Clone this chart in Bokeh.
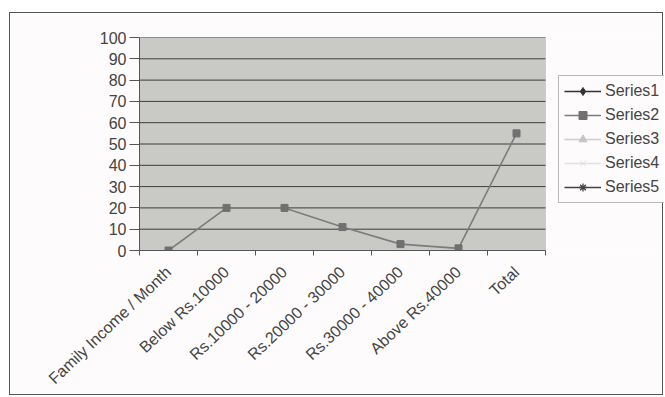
import math
from bokeh.plotting import figure
from bokeh.models import FixedTicker, Legend, LegendItem, ColumnDataSource, BoxAnnotation
from bokeh.embed import file_html
from bokeh.resources import INLINE

categories = ["Family Income / Month", "Below Rs.10000", "Rs.10000 - 20000",
              "Rs.20000 - 30000", "Rs.30000 - 40000", "Above Rs.40000", "Total"]
series2 = [0, 20, 20, 11, 3, 1, 55]
nan = float("nan")
series1 = [nan] * 7
series3 = [nan] * 7
series4 = [nan] * 7
series5 = [nan] * 7
y_ticks = list(range(0, 101, 10))
series_names = ["Series1", "Series2", "Series3", "Series4", "Series5"]

n = len(categories)
xpos = [i + 0.5 for i in range(n)]
# frame extends to the right edge so the legend can sit beside the plot area
x_end = n * 525 / 406

p = figure(width=654, height=383, x_range=(0, x_end), y_range=(0, 100),
           output_backend="svg", toolbar_location=None,
           min_border_left=129, min_border_top=24, min_border_right=0, min_border_bottom=146)
p.styles = {"margin-left": "9px", "margin-top": "12px", "border": "1px solid #555"}
p.background_fill_color = "#fdfbfb"
p.border_fill_color = "#fdfbfb"
p.outline_line_color = None

area = BoxAnnotation(left=0, right=n, bottom=0, top=100, fill_color="#c9c9c6", fill_alpha=1,
                     line_color="#9a9a9a", line_width=1, level="underlay")
p.add_layout(area)

p.xaxis.bounds = (0, n)
p.xaxis.ticker = FixedTicker(ticks=xpos, minor_ticks=list(range(n + 1)))
p.xaxis.major_label_overrides = {x: c for x, c in zip(xpos, categories)}
p.xaxis.major_label_orientation = 0.76
p.xaxis.major_tick_out = 0
p.xaxis.major_tick_in = 0
p.xaxis.minor_tick_out = 5
p.xaxis.minor_tick_in = 0
p.xaxis.minor_tick_line_color = "#555"
p.xaxis.axis_line_color = "#555"
p.xaxis.major_label_text_font = "Liberation Sans"
p.xaxis.major_label_text_font_size = "16px"
p.xaxis.major_label_text_color = "#444"
p.xaxis.major_label_standoff = 14

p.yaxis.ticker = FixedTicker(ticks=y_ticks)
p.yaxis.minor_tick_line_color = None
p.yaxis.major_tick_out = 10
p.yaxis.major_tick_in = 0
p.yaxis.major_tick_line_color = "#555"
p.yaxis.axis_line_color = "#555"
p.yaxis.major_label_text_font = "Liberation Sans"
p.yaxis.major_label_text_font_size = "16px"
p.yaxis.major_label_text_color = "#444"
p.yaxis.major_label_standoff = 3

p.xgrid.grid_line_color = None
p.ygrid.grid_line_color = None
p.segment(x0=[0] * len(y_ticks), x1=[n] * len(y_ticks), y0=y_ticks, y1=y_ticks,
          line_color="#3c3c3c", line_width=1)

src = ColumnDataSource(dict(x=xpos, s1=series1, s2=series2, s3=series3, s4=series4, s5=series5))

l1 = p.line("x", "s1", source=src, line_color="#333", line_width=1.3)
m1 = p.scatter("x", "s1", source=src, marker="diamond", size=9, color="#333")
l2 = p.line("x", "s2", source=src, line_color="#7c7c7c", line_width=1.6)
m2 = p.scatter("x", "s2", source=src, marker="square", size=7, color="#707070")
l3 = p.line("x", "s3", source=src, line_color="#cfcfcf", line_width=1.3)
m3 = p.scatter("x", "s3", source=src, marker="triangle", size=7, color="#c4c4c4")
l4 = p.line("x", "s4", source=src, line_color="#e2e2e2", line_width=1.3)
m4 = p.scatter("x", "s4", source=src, marker="x", size=7, color="#dedede")
l5 = p.line("x", "s5", source=src, line_color="#444", line_width=1.3)
m5 = p.scatter("x", "s5", source=src, marker="asterisk", size=8, color="#444", line_width=1.3)

renderers = [[l1, m1], [l2, m2], [l3, m3], [l4, m4], [l5, m5]]
legend = Legend(items=[LegendItem(label=s, renderers=r) for s, r in zip(series_names, renderers)],
                location=(419, 47))
legend.label_text_font = "Liberation Sans"
legend.label_text_font_size = "16px"
legend.label_text_color = "#444"
legend.glyph_width = 37
legend.glyph_height = 20
legend.label_height = 20
legend.spacing = 4
legend.padding = 5
legend.margin = 0
legend.label_standoff = 4
legend.border_line_color = "#777"
legend.background_fill_color = "#fdfbfb"
legend.background_fill_alpha = 1
p.add_layout(legend, "center")

open("out.html", "w").write(file_html(p, INLINE))
